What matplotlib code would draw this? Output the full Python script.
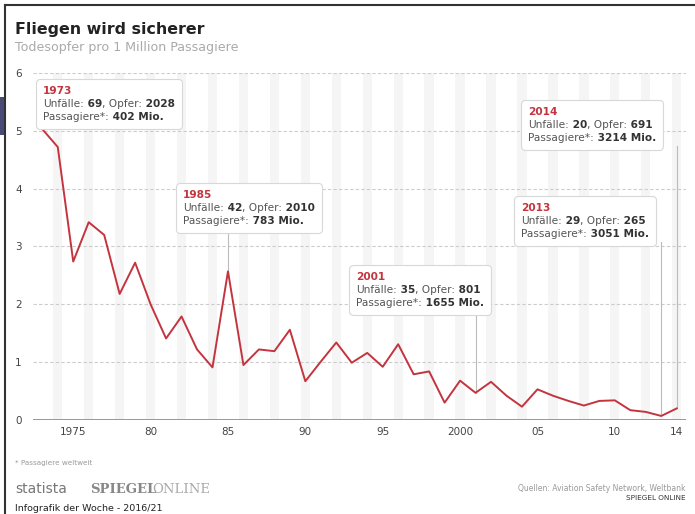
import numpy as np
import matplotlib
matplotlib.use('Agg')
import matplotlib.pyplot as plt
from matplotlib.offsetbox import TextArea, HPacker, VPacker, AnnotationBbox
from matplotlib.patches import Rectangle
from matplotlib.lines import Line2D

years = np.arange(1973, 2015)
deaths_per_mio = [5.03, 4.72, 2.74, 3.42, 3.20, 2.18, 2.72, 2.00, 1.41, 1.79,
                  1.22, 0.91, 2.57, 0.95, 1.22, 1.19, 1.56, 0.67, 1.01, 1.34,
                  0.99, 1.16, 0.92, 1.31, 0.79, 0.84, 0.30, 0.68, 0.47, 0.66,
                  0.42, 0.23, 0.53, 0.42, 0.33, 0.25, 0.33, 0.34, 0.17, 0.14,
                  0.07, 0.20]

tick_years = [1975, 1980, 1985, 1990, 1995, 2000, 2005, 2010, 2014]
tick_labels = ['1975', '80', '85', '90', '95', '2000', '05', '10', '14']

# callouts: year, accidents, victims, passengers (Mio.), text top-left (data coords)
callouts = [
    (1973, '69', '2028', '402', 1973.05, 5.78),
    (1985, '42', '2010', '783', 1982.1, 3.98),
    (2001, '35', '801', '1655', 1993.3, 2.56),
    (2014, '20', '691', '3214', 2004.4, 5.42),
    (2013, '29', '265', '3051', 2003.95, 3.75),
]

red = '#c4343e'
dark = '#444444'
grey = '#999999'

fig = plt.figure(figsize=(6.95, 5.14), dpi=100)
ax = fig.add_axes([33 / 695, 1 - 420 / 514, (686 - 33) / 695, (420 - 73) / 514])

# faint year stripes
for y in years:
    if y % 2 == 0:
        ax.axvspan(y - 0.3, y + 0.3, color='#f5f5f5', zorder=0, lw=0)

for v in range(1, 7):
    ax.axhline(v, color='#cccccc', lw=0.8, ls=(0, (3, 2)), zorder=1)
ax.axhline(0, color='#888888', lw=1.2, zorder=2)

ax.plot(years, deaths_per_mio, color=red, lw=1.4, zorder=5)

ax.set_xlim(1972.4, 2014.6)
ax.set_ylim(0, 6)
for s in ax.spines.values():
    s.set_visible(False)
ax.set_xticks(tick_years)
ax.set_xticklabels(tick_labels)
ax.set_yticks(range(7))
ax.tick_params(length=0, labelsize=7.5, labelcolor=dark)
ax.tick_params(axis='y', pad=8)
ax.tick_params(axis='x', pad=5)

vals = dict(zip(years, deaths_per_mio))
fs = 7.6
for yr, acc, vic, pas, bx, by in callouts:
    if yr != 1973:
        ax.plot([yr, yr], [vals[yr], by - 0.68], color='#bbbbbb', lw=0.8, zorder=3)
    reg = dict(fontsize=fs, color='#555555')
    bold = dict(fontsize=fs, color='#333333', fontweight='bold')
    line0 = TextArea(str(yr), textprops=dict(fontsize=fs, color=red, fontweight='bold'))
    line1 = HPacker(children=[TextArea('Unfälle:', textprops=reg),
                              TextArea(' ' + acc, textprops=bold),
                              TextArea(', Opfer:', textprops=reg),
                              TextArea(' ' + vic, textprops=bold)],
                    sep=0, pad=0, align='baseline')
    line2 = HPacker(children=[TextArea('Passagiere*:', textprops=reg),
                              TextArea(' ' + pas + ' Mio.', textprops=bold)],
                    sep=0, pad=0, align='baseline')
    box = VPacker(children=[line0, line1, line2], sep=2.2, pad=0, align='left')
    ab = AnnotationBbox(box, (bx, by), xycoords='data', box_alignment=(0, 1),
                        frameon=True, pad=0.5,
                        bboxprops=dict(boxstyle='round,pad=0.5,rounding_size=0.3',
                                       fc='white', ec='#d8d8d8', lw=0.8))
    ab.set_zorder(6)
    ax.add_artist(ab)

# titles
fig.text(15 / 695, 1 - 34 / 514, 'Fliegen wird sicherer', fontsize=11.4,
         fontweight='bold', color='#222222')
fig.text(15 / 695, 1 - 51 / 514, 'Todesopfer pro 1 Million Passagiere',
         fontsize=9.1, color='#aaaaaa')

# footer
fig.text(15 / 695, 1 - 465 / 514, '* Passagiere weltweit', fontsize=5.2, color=grey)
fig.text(15 / 695, 1 - 493 / 514, 'statista', fontsize=10, color='#777777')
fig.text(90 / 695, 1 - 493 / 514, 'SPIEGEL', fontsize=9.5, color='#888888',
         fontweight='bold', family='DejaVu Serif')
fig.text(152 / 695, 1 - 493 / 514, 'ONLINE', fontsize=9.5, color='#aaaaaa',
         family='DejaVu Serif')
fig.text(15 / 695, 1 - 511 / 514, 'Infografik der Woche - 2016/21', fontsize=6.8,
         color='#222222')
fig.text(686 / 695, 1 - 491 / 514, 'Quellen: Aviation Safety Network, Weltbank',
         fontsize=5.5, color=grey, ha='right')
fig.text(686 / 695, 1 - 500 / 514, 'SPIEGEL ONLINE', fontsize=5.2, color='#333333',
         ha='right')

# screenshot frame
fig.add_artist(Line2D([5 / 695, 1], [1 - 5 / 514, 1 - 5 / 514], color='#333333', lw=1.5))
fig.add_artist(Line2D([5 / 695, 5 / 695], [0, 1 - 5 / 514], color='#333333', lw=1.5))
fig.add_artist(Rectangle((0, 1 - 135 / 514), 5 / 695, 38 / 514, color='#4a4a78', lw=0))

fig.savefig('out.png', dpi=100)
